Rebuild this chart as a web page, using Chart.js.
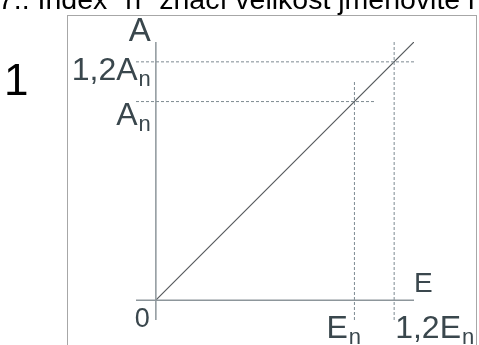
<!DOCTYPE html>
<html>
<head>
<meta charset="utf-8">
<script src="https://cdn.jsdelivr.net/npm/chart.js@4"></script>
<style>
    html, body { margin: 0; padding: 0; background: #fff; }
    #wrap { position: relative; width: 479px; height: 345px; overflow: hidden; }
</style>
</head>
<body>
<div id="wrap"><canvas id="chartCanvas" width="479" height="345"></canvas></div>
<script>
// values in relative units (E_n = 1, A_n = 1)
const axisSpan = [-0.1, 1.3];
const lineE = [0, 1.3];
const lineA = [0, 1.3];
const levelsA = [1.2, 1];          // horizontal dashed guides
const reachA = [1.3, 1.1];         // how far right each guide runs
const levelsE = [1, 1.2];          // vertical dashed guides
const reachE = [1.1, 1.3];         // how far up each guide runs
const xTickValues = [0, 1, 1.2];
const xTickLabels = ['0', 'E', '1,2E'];
const xTickSubs = ['', 'n', 'n'];
const yTickValues = [1.2, 1];
const yTickLabels = ['1,2A', 'A'];
const yTickSubs = ['n', 'n'];
const axisTitleX = 'E';
const axisTitleY = 'A';
const headerText = '7.. Index "n" značí velikost jmenovité hodnoty';
const sideNumber = '1';

const textColor = '#3a474d';
const axisColor = '#8d969b';
const guideColor = '#7d8a91';
const FONT = '"Liberation Sans", Arial, sans-serif';

function pts(xs, ys) {
    return xs.map((x, i) => ({ x, y: ys[i] }));
}

const datasets = [];

// axes as lines through the origin
datasets.push({ data: pts(axisSpan, [0, 0]), borderColor: axisColor, borderWidth: 1.5 });
datasets.push({ data: pts([0, 0], axisSpan), borderColor: axisColor, borderWidth: 1.5 });

levelsA.forEach((v, i) => {
    datasets.push({
        data: pts([axisSpan[0], reachA[i]], [v, v]),
        borderColor: guideColor, borderWidth: 1, borderDash: [3, 2]
    });
});
levelsE.forEach((v, i) => {
    datasets.push({
        data: pts([v, v], [axisSpan[0], reachE[i]]),
        borderColor: guideColor, borderWidth: 1, borderDash: [3, 2]
    });
});

// characteristic A = f(E)
datasets.push({ data: pts(lineE, lineA), borderColor: '#55595c', borderWidth: 1.2 });

function drawSub(ctx, main, sub, x, y, mainSize, subSize, align) {
    ctx.font = `${mainSize}px ${FONT}`;
    const wMain = ctx.measureText(main).width;
    ctx.font = `${subSize}px ${FONT}`;
    const wSub = sub ? ctx.measureText(sub).width + 1 : 0;
    let left = x;
    if (align === 'right') left = x - wMain - wSub;
    ctx.textAlign = 'left';
    ctx.textBaseline = 'alphabetic';
    ctx.font = `${mainSize}px ${FONT}`;
    ctx.fillText(main, left, y);
    if (sub) {
        ctx.font = `${subSize}px ${FONT}`;
        ctx.fillText(sub, left + wMain + 1, y + 6);
    }
}

const decor = {
    id: 'decor',
    beforeDraw(chart) {
        const ctx = chart.ctx;
        ctx.save();
        // slide frame
        ctx.strokeStyle = '#a7a7a7';
        ctx.lineWidth = 1;
        ctx.strokeRect(67.5, 15.5, 409, 400);
        // cut header line
        ctx.fillStyle = '#000';
        ctx.font = `28.5px ${FONT}`;
        ctx.textAlign = 'left';
        ctx.textBaseline = 'alphabetic';
        ctx.fillText(headerText, -2, 9);
        ctx.font = `44px ${FONT}`;
        ctx.fillText(sideNumber, 4, 95);
        ctx.restore();
    },
    afterDraw(chart) {
        const ctx = chart.ctx;
        const xs = chart.scales.x;
        const ys = chart.scales.y;
        const x0 = xs.getPixelForValue(0);
        const y0 = ys.getPixelForValue(0);
        ctx.save();
        ctx.fillStyle = textColor;

        // axis titles
        drawSub(ctx, axisTitleY, '', x0 - 5, ys.getPixelForValue(axisSpan[1]) - 1, 33, 22, 'right');
        drawSub(ctx, axisTitleX, '', xs.getPixelForValue(axisSpan[1]) + 0, y0 - 8, 28, 20, 'left');

        // value labels on A axis
        const yOff = [18, 23];
        yTickValues.forEach((v, i) => {
            drawSub(ctx, yTickLabels[i], yTickSubs[i], x0 - 5, ys.getPixelForValue(v) + yOff[i], 32, 22, 'right');
        });

        // value labels on E axis
        xTickValues.forEach((v, i) => {
            const px = xs.getPixelForValue(v);
            if (v === 0) {
                drawSub(ctx, xTickLabels[i], '', px - 6, y0 + 27, 27, 20, 'right');
            } else if (i === 1) {
                drawSub(ctx, xTickLabels[i], xTickSubs[i], px - 28, y0 + 38, 32, 22, 'left');
            } else {
                drawSub(ctx, xTickLabels[i], xTickSubs[i], px + 1, y0 + 38, 32, 22, 'left');
            }
        });
        ctx.restore();
    }
};

const ctx = document.getElementById('chartCanvas').getContext('2d');
new Chart(ctx, {
    type: 'line',
    data: { datasets },
    options: {
        responsive: false,
        animation: false,
        layout: { padding: { left: 136, right: 65, top: 42, bottom: 25 } },
        elements: { point: { radius: 0 }, line: { tension: 0 } },
        plugins: { legend: { display: false }, tooltip: { enabled: false } },
        scales: {
            x: { type: 'linear', min: axisSpan[0], max: axisSpan[1], display: false },
            y: { type: 'linear', min: axisSpan[0], max: axisSpan[1], display: false }
        }
    },
    plugins: [decor]
});
</script>
</body>
</html>
